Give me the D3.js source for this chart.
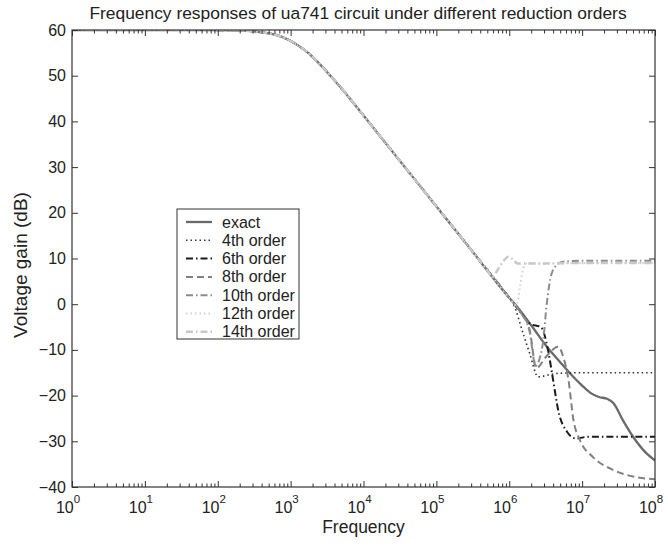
<!DOCTYPE html>
<html><head><meta charset="utf-8">
<script src="https://cdn.jsdelivr.net/npm/d3@7/dist/d3.min.js"></script>
<style>body{margin:0;background:#fff}svg{display:block}text{font-family:"Liberation Sans",Arial,sans-serif;fill:#222}</style>
</head><body><svg id="c" width="668" height="550"></svg>
<script>
// ---- data (frequency in Hz, gain in dB) ----
const title = "Frequency responses of ua741 circuit under different reduction orders";
const xLabel = "Frequency";
const yLabel = "Voltage gain (dB)";
const xTickExps = [0,1,2,3,4,5,6,7,8];
const yTicks = [-40,-30,-20,-10,0,10,20,30,40,50,60];
const seriesNames = ["exact","4th order","6th order","8th order","10th order","12th order","14th order"];

const exactF = [1,10,100,200,400,700,1000,1500,2000,3000,5000,1e4,3e4,1e5,3e5,1e6,1.2e6,2e6,3.2e6,5e6,6.8e6,1e7,1.3e7,1.7e7,2.2e7,2.7e7,3.6e7,5e7,7.6e7,1e8];
const exactG = [60,60,59.97,59.9,59.5,58.7,57.6,55.8,54.1,51.2,47.2,41.3,31.8,21.4,11.9,1.4,0,-4.6,-9.1,-12.7,-15.1,-17.8,-19.4,-20.3,-20.7,-21.7,-25.3,-29.0,-32.6,-34.2];

const o4F = [1,10,100,200,400,700,1000,1500,2000,3000,5000,1e4,3e4,1e5,3e5,1e6,1.12e6,1.55e6,1.9e6,2.5e6,3.6e6,5e6,1e7,1e8];
const o4G = [60,60,59.97,59.9,59.5,58.7,57.6,55.8,54.1,51.2,47.2,41.3,31.8,21.4,11.9,1.4,0.3,-6.4,-10.7,-15.9,-15.4,-15.1,-15.0,-15.0];

const o6F = [1,10,100,200,400,700,1000,1500,2000,3000,5000,1e4,3e4,1e5,3e5,1e6,1.4e6,1.9e6,2.75e6,3.4e6,4e6,4.7e6,6.2e6,8.3e6,1.2e7,1e8];
const o6G = [60,60,59.97,59.9,59.5,58.7,57.6,55.8,54.1,51.2,47.2,41.3,31.8,21.4,11.9,1.4,-1.6,-4.2,-5.1,-10.0,-16.6,-23.2,-27.9,-29.4,-29.0,-29.0];

const o8F = [1,10,100,200,400,700,1000,1500,2000,3000,5000,1e4,3e4,1e5,3e5,1e6,1.4e6,1.9e6,2.35e6,3.2e6,4.7e6,5.5e6,6.5e6,7.6e6,9.3e6,1.4e7,2.7e7,5e7,1e8];
const o8G = [60,60,59.97,59.9,59.5,58.7,57.6,55.8,54.1,51.2,47.2,41.3,31.8,21.4,11.9,1.4,-1.6,-5.5,-14.0,-11.5,-9.3,-11.5,-16.6,-25.3,-29.7,-33.4,-36.3,-37.7,-38.3];

const o10F = [1,10,100,200,400,700,1000,1500,2000,3000,5000,1e4,3e4,1e5,3e5,1e6,1.4e6,1.9e6,2.3e6,2.6e6,2.95e6,3.24e6,3.8e6,4.5e6,5.5e6,1e7,1e8];
const o10G = [60,60,59.97,59.9,59.5,58.7,57.6,55.8,54.1,51.2,47.2,41.3,31.8,21.4,11.9,1.4,-1.6,-6.0,-13.5,-12.0,-7.5,-0.5,6.6,8.6,9.3,9.5,9.5];

const o12F = [1,10,100,200,400,700,1000,1500,2000,3000,5000,1e4,3e4,1e5,3e5,1e6,1.26e6,1.41e6,1.55e6,1.8e6,3e6,1e7,1e8];
const o12G = [60,60,59.97,59.9,59.5,58.7,57.6,55.8,54.1,51.2,47.2,41.3,31.8,21.4,11.9,1.4,-0.3,4.0,7.8,9.0,8.9,9.0,9.0];

const o14F = [1,10,100,200,400,700,1000,1500,2000,3000,5000,1e4,3e4,1e5,3e5,5e5,5.9e5,7.1e5,8.5e5,9.8e5,1.15e6,1.3e6,2e6,1e7,1e8];
const o14G = [60,60,59.97,59.9,59.5,58.7,57.6,55.8,54.1,51.2,47.2,41.3,31.8,21.4,11.9,7.4,6.0,7.8,9.6,10.4,9.6,8.9,8.9,9.0,9.0];

// ---- styles ----
const styles = [
  {color:"#6a6a6a", width:2.3, dash:null},
  {color:"#333333", width:1.6, dash:"1.5,3"},
  {color:"#1a1a1a", width:2,   dash:"7,3,1.5,3"},
  {color:"#808080", width:2,   dash:"7,4"},
  {color:"#8c8c8c", width:2,   dash:"7,3,1.5,3"},
  {color:"#d2d2d2", width:2,   dash:"1.5,3"},
  {color:"#c8c8c8", width:2.4, dash:"7,3,1.5,3"}
];
const seriesF = [exactF,o4F,o6F,o8F,o10F,o12F,o14F];
const seriesG = [exactG,o4G,o6G,o8G,o10G,o12G,o14G];

const svg = d3.select("#c");
const L=72, R=655, T=30, B=487;
const x = d3.scaleLog().domain([1,1e8]).range([L,R]);
const y = d3.scaleLinear().domain([-40,60]).range([B,T]);
const axisCol = "#333";

svg.append("defs").append("clipPath").attr("id","clip")
  .append("rect").attr("x",L).attr("y",T).attr("width",R-L).attr("height",B-T);

// curves
const line = d3.line().x(d=>x(d[0])).y(d=>y(d[1])).curve(d3.curveMonotoneX);
const gC = svg.append("g").attr("clip-path","url(#clip)");
seriesF.forEach((fs,i)=>{
  const pts = fs.map((f,j)=>[f,seriesG[i][j]]);
  gC.append("path").attr("d",line(pts)).attr("fill","none")
    .attr("stroke",styles[i].color).attr("stroke-width",styles[i].width)
    .attr("stroke-dasharray",styles[i].dash).attr("stroke-linejoin","round");
});

// axes box with inward ticks
const gA = svg.append("g");
const majorLen=6, minorLen=3.5;
const minorVals=[];
for(const e of xTickExps.slice(0,-1)) for(const m of [2,3,4,5,6,7,8,9]) minorVals.push(m*Math.pow(10,e));
const majorVals = xTickExps.map(e=>Math.pow(10,e));
const axBot = d3.axisBottom(x).tickValues(majorVals).tickSize(-majorLen).tickFormat("");
const axBotMin = d3.axisBottom(x).tickValues(minorVals).tickSize(-minorLen).tickFormat("");
const axTop = d3.axisTop(x).tickValues(majorVals).tickSize(-majorLen).tickFormat("");
const axTopMin = d3.axisTop(x).tickValues(minorVals).tickSize(-minorLen).tickFormat("");
const axL = d3.axisLeft(y).tickValues(yTicks).tickSize(-majorLen).tickFormat("");
const axR = d3.axisRight(y).tickValues(yTicks).tickSize(-majorLen).tickFormat("");
[[axBot,`translate(0,${B})`],[axBotMin,`translate(0,${B})`],[axTop,`translate(0,${T})`],[axTopMin,`translate(0,${T})`],[axL,`translate(${L},0)`],[axR,`translate(${R},0)`]].forEach(([a,t])=>{
  const g = gA.append("g").attr("transform",t).call(a);
  g.select(".domain").remove();
  g.selectAll(".tick line").attr("stroke",axisCol).attr("stroke-width",1);
});
gA.append("rect").attr("x",L).attr("y",T).attr("width",R-L).attr("height",B-T)
  .attr("fill","none").attr("stroke",axisCol).attr("stroke-width",1.2);

// tick labels
yTicks.forEach(v=>{
  svg.append("text").attr("x",L-6).attr("y",y(v)+5.5).attr("text-anchor","end")
    .attr("font-size",16).text(v<0?"\u2212"+Math.abs(v):String(v));
});
xTickExps.forEach(e=>{
  const t = svg.append("text").attr("x",x(Math.pow(10,e))-4).attr("y",B+26).attr("text-anchor","middle").attr("font-size",16);
  t.append("tspan").text("10");
  t.append("tspan").attr("dy",-10).attr("font-size",11.5).text(String(e));
});

// titles
svg.append("text").attr("x",358).attr("y",19).attr("text-anchor","middle").attr("font-size",17.4).text(title);
svg.append("text").attr("x",(L+R)/2).attr("y",533).attr("text-anchor","middle").attr("font-size",17.5).text(xLabel);
svg.append("text").attr("transform",`translate(27,265) rotate(-90)`).attr("text-anchor","middle").attr("font-size",19).text(yLabel);

// legend
const lg = svg.append("g");
lg.append("rect").attr("x",177).attr("y",209).attr("width",122).attr("height",130)
  .attr("fill","#fff").attr("stroke",axisCol).attr("stroke-width",1);
seriesNames.forEach((n,i)=>{
  const yy = 222 + i*18.3;
  lg.append("line").attr("x1",186).attr("x2",212).attr("y1",yy).attr("y2",yy)
    .attr("stroke",styles[i].color).attr("stroke-width",styles[i].width).attr("stroke-dasharray",styles[i].dash);
  lg.append("text").attr("x",222).attr("y",yy+5.5).attr("font-size",16).text(n);
});
</script></body></html>
